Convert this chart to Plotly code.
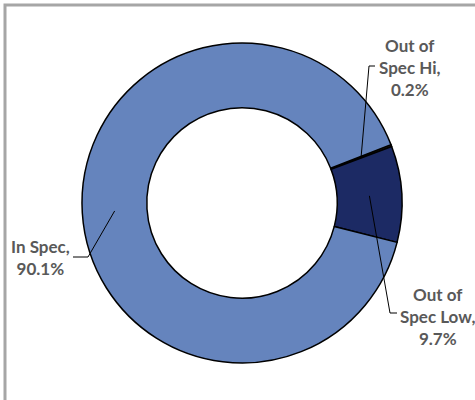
import math
import plotly.graph_objects as go

# ---- data ----
labels = ["Out of Spec Hi", "Out of Spec Low", "In Spec"]
values = [0.2, 9.7, 90.1]
label_text = ["Out of<br>Spec Hi,<br>0.2%", "Out of<br>Spec Low,<br>9.7%", "In Spec,<br>90.1%"]

# ---- style / layout ----
colors = ["#3A2A1C", "#1C2A64", "#6584BD"]
W, H = 475, 400
CX, CY, R = 242, 203, 160
HOLE = 0.595
ROTATION = 68.6

# label placement (pixel centres of text blocks) and leader elbows (pixels)
label_pos = [(410, 67), (437, 316), (40, 257)]
elbows = [[(369, 66), (375, 66)], [(390, 313), (397, 313)], [(88, 257), (73, 257)]]


def px(x):
    return x / W


def py(y):
    return 1 - y / H


fig = go.Figure()
fig.add_trace(go.Pie(
    labels=labels, values=values, sort=False, direction="clockwise",
    rotation=ROTATION, hole=HOLE, textinfo="none", hoverinfo="label+percent",
    marker=dict(colors=colors, line=dict(color="#000000", width=1.5)),
    domain=dict(x=[px(CX - R), px(CX + R)], y=[py(CY + R), py(CY - R)]),
    showlegend=False,
))

total = sum(values)
cum = 0.0
r_mid = R * (1 + HOLE) / 2
shapes = []
annotations = []
for i, v in enumerate(values):
    mid = ROTATION + (cum + v / 2) / total * 360.0
    cum += v
    a = math.radians(mid)
    ax_, ay_ = CX + r_mid * math.sin(a), CY - r_mid * math.cos(a)
    pts = [(ax_, ay_)] + elbows[i]
    path = "M " + " L ".join(f"{px(x)},{py(y)}" for x, y in pts)
    shapes.append(dict(type="path", path=path, xref="paper", yref="paper",
                       line=dict(color="#000000", width=1)))
    lx, ly = label_pos[i]
    annotations.append(dict(x=px(lx), y=py(ly), xref="paper", yref="paper",
                            text=f"<b>{label_text[i]}</b>", showarrow=False,
                            align="center", xanchor="center", yanchor="middle",
                            font=dict(family="Lato", size=17, color="#595959")))

# chart-area border (left/top visible, right/bottom beyond the window)
shapes.append(dict(type="path", xref="paper", yref="paper",
                   path=f"M {px(5)},-0.1 L {px(5)},{py(5)} L 1.1,{py(5)}",
                   line=dict(color="#A6A6A6", width=3)))

fig.update_layout(
    width=W, height=H, margin=dict(l=0, r=0, t=0, b=0),
    paper_bgcolor="white", plot_bgcolor="white",
    shapes=shapes, annotations=annotations,
)

fig.write_html("out.html", config={"displayModeBar": False},
               post_script="document.body.style.margin='0px';")
